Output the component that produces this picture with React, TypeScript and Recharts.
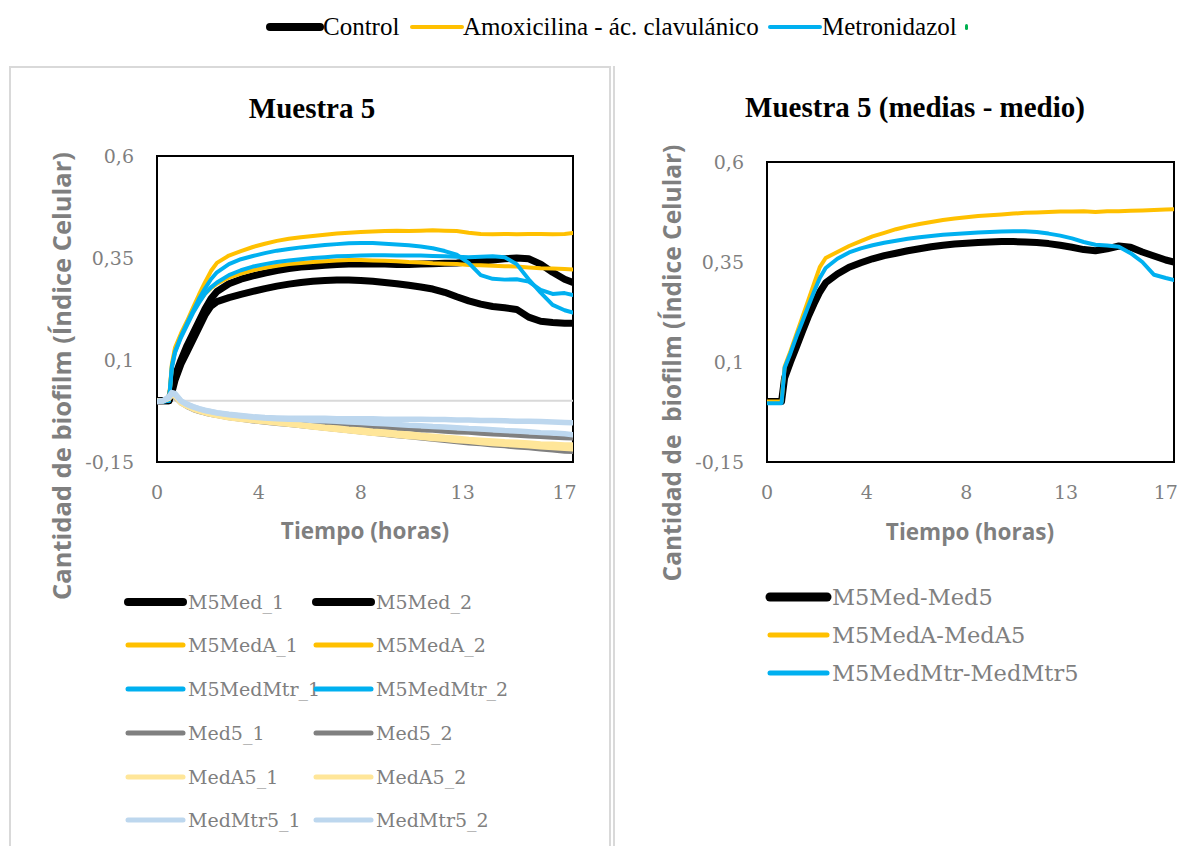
import { LineChart, Line, XAxis, YAxis, ReferenceLine, ReferenceArea } from 'recharts';

// sampling times (hours)
const hours = [
  0, 0.25, 0.5, 0.62, 0.75,
  1, 1.25, 1.5, 1.75,
  2, 2.25, 2.5,
  3, 3.5, 4, 4.5, 5,
  5.5, 6, 6.5, 7, 7.5,
  8, 8.5, 9, 9.5, 10,
  10.5, 11, 11.5, 12, 12.5,
  13, 13.5, 14, 14.5, 15,
  15.5, 16, 16.5, 17, 17.35,
];

const xTicks = [0, 4.25, 8.5, 12.75, 17];
const xTickLabels = ['0', '4', '8', '13', '17'];
const yTicks = [-0.15, 0.1, 0.35, 0.6];
const yTickLabels = ['-0,15', '0,1', '0,35', '0,6'];

// Muestra 5 - replicates
const m5Med1 = [0, 0, 0, 0.03, 0.06, 0.1, 0.135, 0.165, 0.195, 0.225, 0.25, 0.268,
  0.287, 0.298, 0.306, 0.313, 0.319, 0.324, 0.328, 0.33, 0.332, 0.334,
  0.335, 0.335, 0.336, 0.335, 0.334, 0.334, 0.335, 0.336, 0.337, 0.338,
  0.34, 0.342, 0.345, 0.348, 0.35, 0.348, 0.335, 0.315, 0.298, 0.29];
const m5Med2 = [0, 0, 0, 0.02, 0.05, 0.09, 0.12, 0.15, 0.18, 0.21, 0.232, 0.243,
  0.253, 0.261, 0.268, 0.275, 0.281, 0.286, 0.29, 0.293, 0.295, 0.296,
  0.296, 0.295, 0.293, 0.29, 0.287, 0.283, 0.279, 0.274, 0.266, 0.255,
  0.245, 0.237, 0.231, 0.228, 0.224, 0.205, 0.195, 0.192, 0.19, 0.19];
const m5MedA1 = [0, 0, 0.002, 0.09, 0.13, 0.165, 0.195, 0.228, 0.26, 0.29, 0.318, 0.338,
  0.356, 0.367, 0.377, 0.385, 0.392, 0.397, 0.401, 0.404, 0.407, 0.41,
  0.412, 0.414, 0.415, 0.416, 0.417, 0.416, 0.417, 0.418, 0.417, 0.416,
  0.412, 0.409, 0.408, 0.409, 0.408, 0.409, 0.409, 0.408, 0.409, 0.411];
const m5MedA2 = [0, 0, 0.002, 0.085, 0.125, 0.16, 0.19, 0.218, 0.242, 0.262, 0.276, 0.287,
  0.302, 0.312, 0.32, 0.326, 0.331, 0.335, 0.338, 0.34, 0.342, 0.344,
  0.345, 0.345, 0.344, 0.343, 0.342, 0.34, 0.339, 0.337, 0.336, 0.335,
  0.333, 0.332, 0.331, 0.33, 0.329, 0.327, 0.325, 0.324, 0.323, 0.322];
const m5MedMtr1 = [-0.002, -0.002, 0, 0.085, 0.12, 0.158, 0.19, 0.22, 0.25, 0.275, 0.298, 0.315,
  0.335, 0.347, 0.355, 0.362, 0.368, 0.372, 0.376, 0.379, 0.382, 0.384,
  0.386, 0.387, 0.387, 0.385, 0.383, 0.381, 0.378, 0.374, 0.367, 0.358,
  0.338, 0.308, 0.299, 0.297, 0.298, 0.292, 0.272, 0.262, 0.264, 0.259];
const m5MedMtr2 = [-0.002, -0.002, 0, 0.08, 0.118, 0.155, 0.185, 0.215, 0.24, 0.262, 0.278, 0.29,
  0.308, 0.32, 0.329, 0.335, 0.34, 0.344, 0.347, 0.35, 0.352, 0.354,
  0.355, 0.356, 0.357, 0.357, 0.356, 0.356, 0.356, 0.355, 0.354, 0.353,
  0.352, 0.353, 0.354, 0.352, 0.335, 0.298, 0.265, 0.235, 0.222, 0.216];
const med5_1 = [0, 0, 0.006, 0.014, 0.01, -0.005, -0.013, -0.02, -0.025, -0.029, -0.032, -0.035,
  -0.039, -0.042, -0.045, -0.047, -0.049, -0.051, -0.053, -0.055, -0.057, -0.059,
  -0.061, -0.063, -0.065, -0.066, -0.068, -0.07, -0.072, -0.073, -0.075, -0.077,
  -0.078, -0.08, -0.082, -0.083, -0.085, -0.087, -0.088, -0.09, -0.091, -0.092];
const med5_2 = [0, 0, 0.005, 0.012, 0.008, -0.006, -0.015, -0.022, -0.027, -0.031, -0.034, -0.037,
  -0.042, -0.046, -0.05, -0.053, -0.056, -0.059, -0.062, -0.065, -0.068, -0.071,
  -0.074, -0.077, -0.08, -0.083, -0.086, -0.089, -0.092, -0.095, -0.098, -0.101,
  -0.104, -0.106, -0.109, -0.111, -0.114, -0.116, -0.119, -0.121, -0.124, -0.125];
const medA5_1 = [0, 0, 0.006, 0.015, 0.012, -0.004, -0.012, -0.018, -0.023, -0.028, -0.032, -0.035,
  -0.04, -0.044, -0.047, -0.05, -0.052, -0.055, -0.058, -0.061, -0.064, -0.066,
  -0.069, -0.071, -0.074, -0.076, -0.079, -0.081, -0.084, -0.086, -0.089, -0.091,
  -0.094, -0.096, -0.098, -0.1, -0.101, -0.103, -0.105, -0.106, -0.108, -0.108];
const medA5_2 = [0, 0, 0.006, 0.014, 0.011, -0.006, -0.014, -0.021, -0.026, -0.03, -0.034, -0.037,
  -0.042, -0.046, -0.049, -0.052, -0.055, -0.058, -0.061, -0.065, -0.068, -0.071,
  -0.074, -0.077, -0.08, -0.082, -0.085, -0.088, -0.09, -0.093, -0.095, -0.098,
  -0.1, -0.103, -0.105, -0.107, -0.109, -0.111, -0.113, -0.115, -0.117, -0.118];
const medMtr5_1 = [-0.002, 0, 0.01, 0.02, 0.018, 0, -0.008, -0.014, -0.019, -0.023, -0.026, -0.029,
  -0.033, -0.036, -0.039, -0.041, -0.042, -0.043, -0.043, -0.043, -0.043, -0.044,
  -0.044, -0.044, -0.044, -0.045, -0.045, -0.045, -0.045, -0.046, -0.046, -0.047,
  -0.047, -0.048, -0.048, -0.049, -0.05, -0.05, -0.051, -0.052, -0.053, -0.054];
const medMtr5_2 = [-0.002, 0, 0.009, 0.019, 0.016, -0.001, -0.009, -0.015, -0.02, -0.024, -0.027, -0.03,
  -0.034, -0.037, -0.04, -0.042, -0.044, -0.045, -0.046, -0.048, -0.049, -0.05,
  -0.052, -0.053, -0.055, -0.056, -0.058, -0.06, -0.061, -0.063, -0.064, -0.066,
  -0.068, -0.069, -0.071, -0.073, -0.074, -0.076, -0.078, -0.079, -0.081, -0.083];

// Muestra 5 - means minus medium
const medDiff = [0.001, 0.001, 0.001, 0.001, 0.06, 0.1, 0.137, 0.175, 0.212, 0.245, 0.275, 0.298,
  0.32, 0.337, 0.348, 0.358, 0.366, 0.372, 0.378, 0.383, 0.388, 0.392,
  0.395, 0.397, 0.399, 0.4, 0.401, 0.401, 0.4, 0.399, 0.396, 0.392,
  0.387, 0.381, 0.378, 0.383, 0.39, 0.387, 0.375, 0.365, 0.355, 0.35];
const medADiff = [0.001, 0.001, 0.001, 0.001, 0.088, 0.127, 0.169, 0.211, 0.253, 0.295, 0.337, 0.36,
  0.375, 0.39, 0.402, 0.414, 0.423, 0.432, 0.439, 0.445, 0.45, 0.455,
  0.459, 0.462, 0.465, 0.467, 0.469, 0.471, 0.473, 0.474, 0.475, 0.476,
  0.476, 0.477, 0.475, 0.477, 0.477, 0.478, 0.479, 0.48, 0.481, 0.482];
const medMtrDiff = [-0.003, -0.003, -0.003, -0.003, 0.085, 0.122, 0.163, 0.2, 0.238, 0.275, 0.31, 0.335,
  0.358, 0.374, 0.384, 0.392, 0.398, 0.403, 0.408, 0.412, 0.415, 0.418,
  0.42, 0.422, 0.424, 0.425, 0.426, 0.427, 0.427, 0.425, 0.421, 0.416,
  0.409, 0.4, 0.393, 0.391, 0.388, 0.372, 0.35, 0.318, 0.31, 0.305];

const BLACK = '#000000';
const GOLD = '#ffc000';
const SKY = '#00b0f0';
const GREY = '#808080';
const PALE_GOLD = '#ffe699';
const PALE_SKY = '#bdd7ee';
const TEXT_GREY = '#7f7f7f';
const SERIF = '"DejaVu Serif", serif';

interface SeriesDef {
  key: string;
  name: string;
  color: string;
  width: number;
  values: number[];
}

const leftSeries: SeriesDef[] = [
  { key: 'a', name: 'M5Med_1', color: BLACK, width: 7, values: m5Med1 },
  { key: 'b', name: 'M5Med_2', color: BLACK, width: 7, values: m5Med2 },
  { key: 'c', name: 'M5MedA_1', color: GOLD, width: 4, values: m5MedA1 },
  { key: 'd', name: 'M5MedA_2', color: GOLD, width: 4, values: m5MedA2 },
  { key: 'e', name: 'M5MedMtr_1', color: SKY, width: 4, values: m5MedMtr1 },
  { key: 'f', name: 'M5MedMtr_2', color: SKY, width: 4, values: m5MedMtr2 },
  { key: 'g', name: 'Med5_1', color: GREY, width: 4.5, values: med5_1 },
  { key: 'h', name: 'Med5_2', color: GREY, width: 4.5, values: med5_2 },
  { key: 'i', name: 'MedA5_1', color: PALE_GOLD, width: 5, values: medA5_1 },
  { key: 'j', name: 'MedA5_2', color: PALE_GOLD, width: 5, values: medA5_2 },
  { key: 'k', name: 'MedMtr5_1', color: PALE_SKY, width: 5.5, values: medMtr5_1 },
  { key: 'l', name: 'MedMtr5_2', color: PALE_SKY, width: 5.5, values: medMtr5_2 },
];

const rightSeries: SeriesDef[] = [
  { key: 'a', name: 'M5Med-Med5', color: BLACK, width: 7, values: medDiff },
  { key: 'b', name: 'M5MedA-MedA5', color: GOLD, width: 4, values: medADiff },
  { key: 'c', name: 'M5MedMtr-MedMtr5', color: SKY, width: 4, values: medMtrDiff },
];

const topLegend = [
  { name: 'Control', color: BLACK, width: 8, x: 270, textX: 323 },
  { name: 'Amoxicilina - ác. clavulánico', color: GOLD, width: 4, x: 412, textX: 463 },
  { name: 'Metronidazol', color: SKY, width: 4, x: 770, textX: 822 },
];

function toRows(series: SeriesDef[]) {
  return hours.map((t, i) => {
    const row: Record<string, number> = { t };
    series.forEach(s => { row[s.key] = s.values[i]; });
    return row;
  });
}

function Swatch({ color, width, len }: { color: string; width: number; len: number }) {
  return (
    <svg width={len + 10} height={14} style={{ display: 'block' }}>
      <line x1={5} y1={7} x2={len + 5} y2={7} stroke={color} strokeWidth={width} strokeLinecap="round" />
    </svg>
  );
}

function Panel({ series, left, top, width, height, margin, zeroLine }: {
  series: SeriesDef[]; left: number; top: number; width: number; height: number;
  margin: { top: number; right: number; bottom: number; left: number }; zeroLine: boolean;
}) {
  const tickStyle = { fill: TEXT_GREY, fontSize: 19, fontFamily: SERIF };
  return (
    <div style={{ position: 'absolute', left, top }}>
      <LineChart width={width} height={height} data={toRows(series)} margin={margin}>
        <XAxis dataKey="t" type="number" domain={[0, 17.35]} ticks={xTicks} allowDataOverflow
          tickFormatter={(v: number) => xTickLabels[xTicks.indexOf(v)]}
          tickLine={false} axisLine={false} tickSize={0} tickMargin={24} height={40} tick={tickStyle} />
        <YAxis type="number" domain={[-0.15, 0.6]} ticks={yTicks} allowDataOverflow
          tickFormatter={(v: number) => yTickLabels[yTicks.indexOf(v)]}
          tickLine={false} axisLine={false} tickSize={0} tickMargin={23} width={60} tick={tickStyle} />
        {zeroLine && <ReferenceLine y={0} stroke="#d9d9d9" strokeWidth={2} />}
        {series.map(s => (
          <Line key={s.key} type="linear" dataKey={s.key} name={s.name} stroke={s.color}
            strokeWidth={s.width} dot={false} strokeLinejoin="round" strokeLinecap="round"
            isAnimationActive={false} />
        ))}
        <ReferenceArea x1={0} x2={17.35} y1={-0.15} y2={0.6} fill="none" fillOpacity={0}
          stroke="#000" strokeWidth={2} ifOverflow="visible" />
      </LineChart>
    </div>
  );
}

const abs = (left: number, top: number): React.CSSProperties => ({ position: 'absolute', left, top });

const axisTitle: React.CSSProperties = {
  fontFamily: '"Open Sans", sans-serif', fontWeight: 700, fontSize: 22.5, color: TEXT_GREY,
  whiteSpace: 'pre', lineHeight: 1,
};
const yTitleLeft: React.CSSProperties = { ...axisTitle, fontSize: 25.5 };
const yTitleRight: React.CSSProperties = { ...axisTitle, fontSize: 24.5 };
const chartTitle: React.CSSProperties = {
  fontFamily: '"Liberation Serif", serif', fontWeight: 700, fontSize: 29, color: '#000',
  whiteSpace: 'pre', lineHeight: 1,
};

function Centered({ x, y, style, children, rotate }: {
  x: number; y: number; style: React.CSSProperties; children: React.ReactNode; rotate?: boolean;
}) {
  return (
    <div style={{ ...abs(x, y), transform: `translate(-50%, -50%)${rotate ? ' rotate(-90deg)' : ''}`, ...style }}>
      {children}
    </div>
  );
}

export default function App() {
  return (
    <div style={{ position: 'absolute', left: 0, top: 0, width: 1202, height: 846, overflow: 'hidden', background: '#fff' }}>
      {/* top legend */}
      {topLegend.map(item => (
        <div key={item.name}>
          <div style={abs(item.x - 5, 20)}><Swatch color={item.color} width={item.width} len={50} /></div>
          <div style={{ ...abs(item.textX, 13), fontFamily: '"Liberation Serif", serif', fontSize: 25, lineHeight: '28px', color: '#000', whiteSpace: 'pre' }}>
            {item.name}
          </div>
        </div>
      ))}
      <div style={{ ...abs(965, 24), width: 3, height: 6, borderRadius: 2, background: '#00b050' }} />

      {/* panel frames */}
      <div style={{ ...abs(9, 66), width: 602, height: 800, border: '2px solid #d9d9d9', boxSizing: 'border-box' }} />
      <div style={{ ...abs(613, 66), width: 2, height: 800, background: '#d9d9d9' }} />

      {/* left chart */}
      <Centered x={312} y={108} style={chartTitle}>Muestra 5</Centered>
      <Panel series={leftSeries} left={40} top={140} width={560} height={400}
        margin={{ top: 16, right: 27, bottom: 38, left: 57 }} zeroLine />
      <Centered x={62} y={376} style={yTitleLeft} rotate>Cantidad de biofilm (Índice Celular)</Centered>
      <Centered x={365} y={531} style={axisTitle}>Tiempo (horas)</Centered>
      {leftSeries.map((s, i) => {
        const col = i % 2;
        const row = Math.floor(i / 2);
        const y = [602, 645, 689, 733, 777, 820][row];
        const x = col === 0 ? 128 : 316;
        return (
          <div key={s.name}>
            <div style={abs(x - 5, y - 7)}><Swatch color={s.color} width={s.color === BLACK ? 8 : 5} len={55} /></div>
            <div style={{ ...abs(x + 60, y - 13), fontFamily: SERIF, fontSize: 19, lineHeight: '26px', color: TEXT_GREY, whiteSpace: 'pre' }}>
              {s.name}
            </div>
          </div>
        );
      })}

      {/* right chart */}
      <Centered x={915} y={107} style={chartTitle}>Muestra 5 (medias - medio)</Centered>
      <Panel series={rightSeries} left={650} top={140} width={550} height={400}
        margin={{ top: 22, right: 26, bottom: 38, left: 57 }} zeroLine={false} />
      <Centered x={672} y={363} style={yTitleRight} rotate>{'Cantidad de  biofilm (Índice Celular)'}</Centered>
      <Centered x={970} y={532} style={axisTitle}>Tiempo (horas)</Centered>
      {rightSeries.map((s, i) => {
        const y = [597, 635, 673][i];
        return (
          <div key={s.name}>
            <div style={abs(770 - 5, y - 7)}><Swatch color={s.color} width={s.color === BLACK ? 9 : 5} len={57} /></div>
            <div style={{ ...abs(832, y - 16), fontFamily: SERIF, fontSize: 22.5, lineHeight: '32px', color: TEXT_GREY, whiteSpace: 'pre' }}>
              {s.name}
            </div>
          </div>
        );
      })}
    </div>
  );
}
